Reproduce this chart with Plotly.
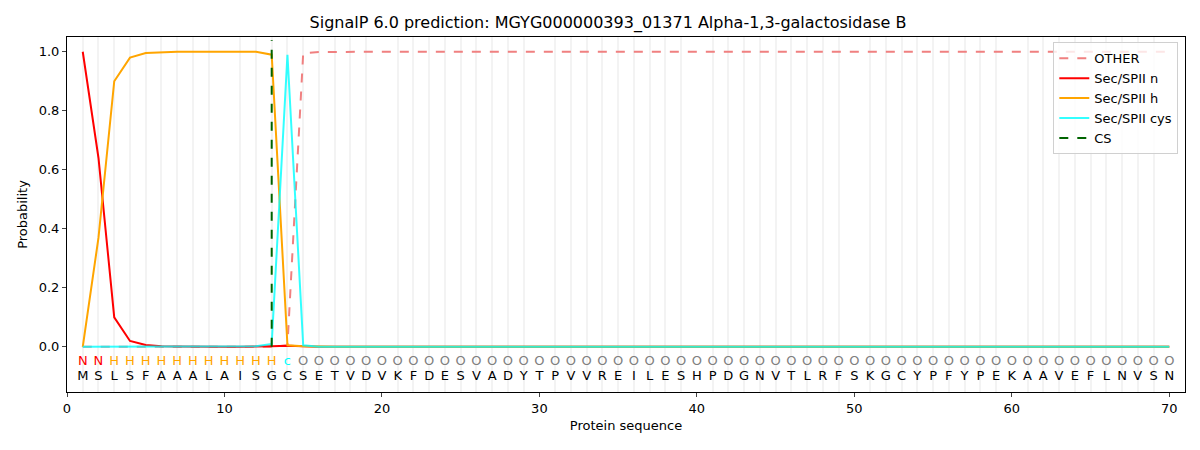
import plotly.graph_objects as go

# residues and per-position region labels
sequence = list("MSLSFAAALAISGCSETVDVKFDESVADYTPVVREILESHPDGNVTLRFSKGCYPFYPEKAAVEFLNVSN")
regions = ["N", "N"] + ["H"] * 11 + ["C"] + ["O"] * 56
positions = list(range(1, len(sequence) + 1))

other = [0.0] * 13 + [0.005, 0.995, 0.999] + [1.0] * 54
sec_n = [1.0, 0.64, 0.10, 0.02, 0.006, 0.002, 0.001] + [0.0] * 5 + [0.002, 0.004, 0.001] + [0.0] * 55
sec_h = [0.0, 0.37, 0.90, 0.98, 0.996, 0.999, 1.0, 1.0, 1.0, 1.0, 1.0, 1.0, 0.99, 0.005, 0.002] + [0.0] * 55
sec_cys = [0.0] * 11 + [0.002, 0.01, 0.99, 0.005] + [0.0] * 55
cs_pos = 13

region_colors = {"N": "red", "H": "orange", "C": "cyan", "O": "grey"}
font = "DejaVu Sans"

fig = go.Figure()

fig.add_trace(go.Scatter(x=positions, y=other, mode="lines", name="OTHER",
                         line=dict(color="lightcoral", width=2, dash="dash")))
fig.add_trace(go.Scatter(x=positions, y=sec_n, mode="lines", name="Sec/SPII n",
                         line=dict(color="red", width=2)))
fig.add_trace(go.Scatter(x=positions, y=sec_h, mode="lines", name="Sec/SPII h",
                         line=dict(color="orange", width=2)))
fig.add_trace(go.Scatter(x=positions, y=sec_cys, mode="lines", name="Sec/SPII cys",
                         line=dict(color="cyan", width=2), opacity=0.8))
fig.add_trace(go.Scatter(x=[cs_pos, cs_pos], y=[0, 1.04], mode="lines", name="CS",
                         line=dict(color="darkgreen", width=2, dash="dash")))

# region letters and residue letters under the curves
fig.add_trace(go.Scatter(x=positions, y=[-0.05] * len(positions), mode="text",
                         text=[r if r != "C" else "c" for r in regions],
                         textfont=dict(family=font, size=13,
                                       color=[region_colors[r] for r in regions]),
                         showlegend=False, hoverinfo="skip"))
fig.add_trace(go.Scatter(x=positions, y=[-0.1] * len(positions), mode="text",
                         text=sequence,
                         textfont=dict(family=font, size=13, color="black"),
                         showlegend=False, hoverinfo="skip"))

fig.update_layout(
    width=1200, height=450,
    margin=dict(l=59, r=23, t=29, b=66),
    plot_bgcolor="white",
    paper_bgcolor="white",
    font=dict(family=font, size=12, color="black"),
    title=dict(text="SignalP 6.0 prediction: MGYG000000393_01371 Alpha-1,3-galactosidase B",
               x=0.5, xanchor="center", y=0.967, yanchor="middle",
               font=dict(size=16)),
    legend=dict(x=0.994, y=0.985, xanchor="right", yanchor="top",
                bordercolor="#d0d0d0", borderwidth=1, bgcolor="rgba(255,255,255,0.8)",
                font=dict(size=13), tracegroupgap=0),
    showlegend=True,
)

fig.update_xaxes(
    range=[0, 71], tickmode="linear", tick0=0, dtick=10,
    ticks="outside", ticklen=4, showgrid=False, zeroline=False,
    showline=True, linecolor="black", mirror=True, automargin=False,
    minor=dict(tickmode="linear", tick0=0, dtick=1, showgrid=True,
               gridcolor="#f3f3f3", gridwidth=2, ticks=""),
    title=dict(text="Protein sequence", font=dict(size=13), standoff=6),
    tickfont=dict(size=13),
)
fig.update_yaxes(
    range=[-0.153, 1.05], tickmode="array",
    tickvals=[0, 0.2, 0.4, 0.6, 0.8, 1.0],
    ticktext=["0.0", "0.2", "0.4", "0.6", "0.8", "1.0"],
    ticks="outside", ticklen=4, showgrid=False, zeroline=False,
    showline=True, linecolor="black", mirror=True, automargin=False,
    title=dict(text="Probability", font=dict(size=13), standoff=8),
    tickfont=dict(size=13),
)

fig.write_html("out.html")
